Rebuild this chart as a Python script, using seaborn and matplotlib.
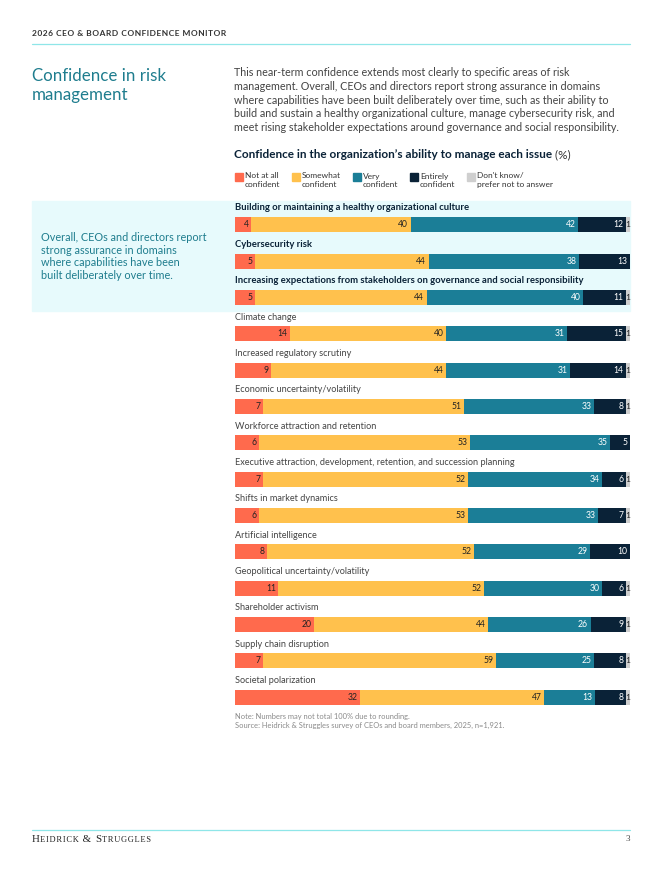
import numpy as np
import pandas as pd
import matplotlib
matplotlib.use("Agg")
import matplotlib.pyplot as plt
import seaborn as sns
from matplotlib.patches import Rectangle
from matplotlib.lines import Line2D
from matplotlib.offsetbox import TextArea, HPacker, AnchoredOffsetbox

issues = [
    "Building or maintaining a healthy organizational culture",
    "Cybersecurity risk",
    "Increasing expectations from stakeholders on governance and social responsibility",
    "Climate change",
    "Increased regulatory scrutiny",
    "Economic uncertainty/volatility",
    "Workforce attraction and retention",
    "Executive attraction, development, retention, and succession planning",
    "Shifts in market dynamics",
    "Artificial intelligence",
    "Geopolitical uncertainty/volatility",
    "Shareholder activism",
    "Supply chain disruption",
    "Societal polarization",
]
not_at_all = [4, 5, 5, 14, 9, 7, 6, 7, 6, 8, 11, 20, 7, 32]
somewhat = [40, 44, 44, 40, 44, 51, 53, 52, 53, 52, 52, 44, 59, 47]
very = [42, 38, 40, 31, 31, 33, 35, 34, 33, 29, 30, 26, 25, 13]
entirely = [12, 13, 11, 15, 14, 8, 5, 6, 7, 10, 6, 9, 8, 8]
dont_know = [1, 0, 1, 1, 1, 1, 0, 1, 1, 0, 1, 1, 1, 1]
highlighted = 3  # first rows sit on the tinted panel

segments = ["Not at all\nconfident", "Somewhat\nconfident", "Very\nconfident",
            "Entirely\nconfident", "Don't know/\nprefer not to answer"]
colors = ["#FF6A4D", "#FFC14D", "#1B7E97", "#0A2237", "#CFCFCF"]
text_colors = ["#222222", "#222222", "white", "white", "#222222"]

W, H = 662, 880
def fx(px):
    return px / W
def fy(py):
    return 1 - py / H

sns.set_theme(style="white")
plt.rcParams["font.family"] = ["Lato", "DejaVu Sans"]

df = pd.DataFrame({"issue": issues, "s0": not_at_all, "s1": somewhat,
                   "s2": very, "s3": entirely, "s4": dont_know})
cols = ["s0", "s1", "s2", "s3", "s4"]
totals = df[cols].sum(axis=1)
cum = df[cols].cumsum(axis=1).div(totals, axis=0) * 100
for c in cols:
    df["c_" + c] = cum[c]

fig = plt.figure(figsize=(W / 100, H / 100), dpi=100)

# tinted panel behind the first rows
fig.patches.append(Rectangle((fx(32), fy(311)), fx(630) - fx(32), fy(201) - fy(311),
                             transform=fig.transFigure, color="#E7FAFC", zorder=-5))

# header / footer rules
fig.add_artist(Line2D([fx(32), fx(630)], [fy(44), fy(44)], color="#8FE6E8", lw=0.9))
fig.add_artist(Line2D([fx(32), fx(630)], [fy(830), fy(830)], color="#8FE6E8", lw=0.9))

header = "\u200a".join("2026 CEO & BOARD CONFIDENCE MONITOR")
fig.text(fx(32), fy(33), header, fontsize=6.0,
         fontweight="bold", color="#333333", va="center")
fig.text(fx(32), fy(68), "Confidence in risk\nmanagement", fontsize=12.2,
         color="#1F7D8E", va="top", linespacing=1.2)

body = ("This near-term confidence extends most clearly to specific areas of risk\n"
        "management. Overall, CEOs and directors report strong assurance in domains\n"
        "where capabilities have been built deliberately over time, such as their ability to\n"
        "build and sustain a healthy organizational culture, manage cybersecurity risk, and\n"
        "meet rising stakeholder expectations around governance and social responsibility.")
fig.text(fx(234), fy(67.5), body, fontsize=7.75, color="#444444", va="top", linespacing=1.29)

title_box = TextArea("Confidence in the organization\u2019s ability to manage each issue",
                     textprops=dict(fontsize=8.5, fontweight="bold", color="#0A2237"))
pct_box = TextArea(" (%)", textprops=dict(fontsize=8.5, color="#333333"))
pack = HPacker(children=[title_box, pct_box], align="baseline", pad=0, sep=0)
fig.add_artist(AnchoredOffsetbox(loc="center left", child=pack, pad=0, frameon=False,
                                 bbox_to_anchor=(fx(234), fy(155)),
                                 bbox_transform=fig.transFigure, borderpad=0))

fig.text(fx(41), fy(232), "Overall, CEOs and directors report\nstrong assurance in domains\n"
         "where capabilities have been\nbuilt deliberately over time.",
         fontsize=7.8, color="#1F7D8E", va="top", linespacing=1.18)

# legend
for xpx, lab, col in zip([235, 292, 353, 410, 467], segments, colors):
    fig.patches.append(Rectangle((fx(xpx), fy(181)), fx(8), 8 / H,
                                 transform=fig.transFigure, color=col))
    fig.text(fx(xpx + 10), fy(172.5), lab, fontsize=6.0, color="#333333",
             va="top", linespacing=1.2)

# stacked bars
ax = fig.add_axes([fx(235), fy(719), fx(630) - fx(235), fy(192) - fy(719)])
ax.set_facecolor("none")
for c, col in reversed(list(zip(cols, colors))):
    sns.barplot(data=df, x="c_" + c, y="issue", orient="h", color=col,
                width=0.41, saturation=1, ax=ax, linewidth=0)

for i, row in df.iterrows():
    start = 0
    for c, tc in zip(cols, text_colors):
        end = row["c_" + c]
        if row[c] > 0:
            if c == "s4":
                ax.text((start + end) / 2, i, str(row[c]), ha="center", va="center",
                        fontsize=6.0, color=tc)
            else:
                ax.annotate(str(row[c]), (end, i), xytext=(-1.8, 0),
                            textcoords="offset points", ha="right", va="center",
                            fontsize=6.2, color=tc)
        start = end
    bold = i < highlighted
    ax.text(0, i - 0.46, row["issue"], ha="left", va="center",
            fontsize=6.8 if bold else 6.6, fontweight="bold" if bold else "normal",
            color="#0A2237" if bold else "#444444")

ax.set_xlim(0, 100)
ax.set_ylim(13.6, -0.9)
ax.set_xticks([])
ax.set_yticks([])
ax.set_xlabel("")
ax.set_ylabel("")
sns.despine(ax=ax, left=True, bottom=True)

fig.text(fx(235), fy(713), "Note: Numbers may not total 100% due to rounding.\n"
         "Source: Heidrick & Struggles survey of CEOs and board members, 2025, n=1,921.",
         fontsize=5.45, color="#8A8A8A", va="top", linespacing=1.4)

# footer wordmark in small caps
serif = ["Liberation Serif", "DejaVu Serif"]
parts = [("H", 7.8), ("EIDRICK", 6.0), (" & ", 7.8), ("S", 7.8), ("TRUGGLES", 6.0)]
areas = [TextArea("\u200a".join(s), textprops=dict(fontsize=sz, family=serif, color="#222222"))
         for s, sz in parts]
mark = HPacker(children=areas, align="baseline", pad=0, sep=0.3)
fig.add_artist(AnchoredOffsetbox(loc="center left", child=mark, pad=0, frameon=False,
                                 bbox_to_anchor=(fx(32), fy(839)),
                                 bbox_transform=fig.transFigure, borderpad=0))
fig.text(fx(630), fy(839), "3", fontsize=6.5, family=serif, color="#444444",
         ha="right", va="center")

fig.savefig("out.png", dpi=100)
